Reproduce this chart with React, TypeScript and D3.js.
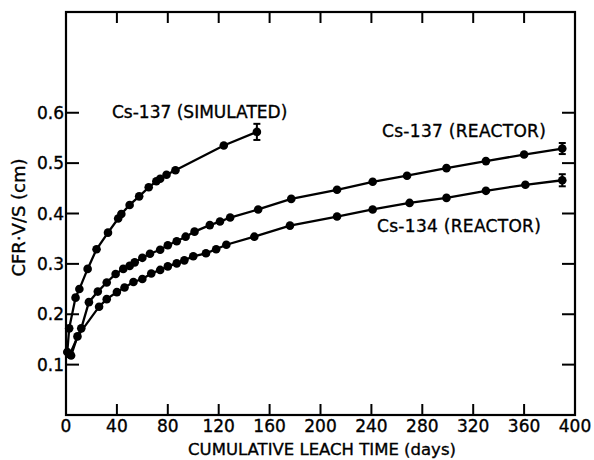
import React from 'react';
import * as d3 from 'd3';

// Cs-137 simulated waste
const simDays = [1, 2.5, 7.5, 10.5, 17, 24, 33, 41, 43.5, 50, 57.5, 65, 71, 74, 79, 86, 124, 150];
const simCFR = [0.125, 0.172, 0.233, 0.25, 0.29, 0.329, 0.362, 0.39, 0.399, 0.417, 0.434, 0.452, 0.464, 0.469, 0.477, 0.486, 0.535, 0.562];

// Cs-137 reactor waste
const r137Days = [3, 12, 18, 25, 32, 39, 45, 50, 54, 60, 66, 74, 80, 87, 94, 101, 113, 121, 129, 151, 177, 213, 241, 268, 299, 330, 360, 390];
const r137CFR = [0.12, 0.172, 0.224, 0.245, 0.263, 0.28, 0.29, 0.296, 0.303, 0.312, 0.32, 0.328, 0.337, 0.345, 0.354, 0.364, 0.377, 0.384, 0.392, 0.408, 0.429, 0.447, 0.463, 0.475, 0.49, 0.504, 0.517, 0.529];

// Cs-134 reactor waste
const r134Days = [4, 9, 26, 32, 40, 46, 53, 60, 67, 74, 80, 87, 93, 100, 110, 118, 126, 148, 176, 213, 241, 270, 299, 330, 361, 390];
const r134CFR = [0.118, 0.156, 0.215, 0.23, 0.244, 0.253, 0.264, 0.27, 0.281, 0.288, 0.295, 0.301, 0.307, 0.315, 0.321, 0.329, 0.338, 0.354, 0.376, 0.394, 0.408, 0.421, 0.431, 0.445, 0.457, 0.466];

// error bars on the last point of each series
const errDays = [150, 390, 390];
const errCFR = [0.562, 0.529, 0.466];
const errHalf = [0.016, 0.011, 0.012];

const xTicks = [0, 40, 80, 120, 160, 200, 240, 280, 320, 360, 400];
const yTicks = [0.1, 0.2, 0.3, 0.4, 0.5, 0.6];
const seriesLabels = ['Cs-137 (SIMULATED)', 'Cs-137 (REACTOR)', 'Cs-134 (REACTOR)'];

const W = 594;
const H = 460;
const LEFT = 66;
const RIGHT = 575;
const TOP = 12;
const BOTTOM = 415;
const FONT = 'DejaVu Sans, sans-serif';

export default function App() {
  const x = d3.scaleLinear().domain([0, 400]).range([LEFT, RIGHT]);
  const y = d3.scaleLinear().domain([0, 0.8]).range([BOTTOM, TOP]);

  const line = d3
    .line<[number, number]>()
    .x(d => x(d[0]))
    .y(d => y(d[1]));

  const series = [
    d3.zip(simDays, simCFR) as [number, number][],
    d3.zip(r137Days, r137CFR) as [number, number][],
    d3.zip(r134Days, r134CFR) as [number, number][]
  ];

  const innerX = xTicks.slice(1, -1);
  // hand lettering is a bit heavier than the plain font
  const ink = { fill: '#000', stroke: '#000', strokeWidth: 0.35 };

  return (
    <svg width={W} height={H} style={{ position: 'absolute', left: 0, top: 0, background: '#fff' }} fontFamily={FONT}>
      <rect x={LEFT} y={TOP} width={RIGHT - LEFT} height={BOTTOM - TOP} fill="none" stroke="#000" strokeWidth={2.2} />

      {innerX.map(t => (
        <g key={'xt' + t}>
          <line x1={x(t)} x2={x(t)} y1={BOTTOM} y2={BOTTOM - 11} stroke="#000" strokeWidth={2} />
          <line x1={x(t)} x2={x(t)} y1={TOP} y2={TOP + 11} stroke="#000" strokeWidth={2} />
        </g>
      ))}
      {yTicks.map(t => (
        <g key={'yt' + t}>
          <line x1={LEFT} x2={LEFT + 13} y1={y(t)} y2={y(t)} stroke="#000" strokeWidth={2} />
          <line x1={RIGHT} x2={RIGHT - 13} y1={y(t)} y2={y(t)} stroke="#000" strokeWidth={2} />
          <text x={LEFT - 2} y={y(t)} dy="0.36em" textAnchor="end" fontSize={17} {...ink}>
            {t.toFixed(1)}
          </text>
        </g>
      ))}
      {xTicks.map(t => (
        <text key={'xl' + t} x={x(t)} y={BOTTOM + 17} textAnchor="middle" fontSize={17} {...ink}>
          {t}
        </text>
      ))}

      <text x={322} y={455} textAnchor="middle" fontSize={16.5} {...ink}>
        CUMULATIVE LEACH TIME  (days)
      </text>
      <text transform={`translate(25, ${(TOP + BOTTOM) / 2 + 4}) rotate(-90)`} textAnchor="middle" fontSize={18} {...ink}>
        CFR·V/S (cm)
      </text>

      {series.map((s, i) => (
        <g key={'s' + i}>
          <path d={line(s) || ''} fill="none" stroke="#000" strokeWidth={2.3} />
          {s.map((p, j) => (
            <circle key={j} cx={x(p[0])} cy={y(p[1])} r={4.3} fill="#000" />
          ))}
        </g>
      ))}

      {errDays.map((d, i) => (
        <g key={'e' + i} stroke="#000" strokeWidth={2}>
          <line x1={x(d)} x2={x(d)} y1={y(errCFR[i] - errHalf[i])} y2={y(errCFR[i] + errHalf[i])} />
          <line x1={x(d) - 3.5} x2={x(d) + 3.5} y1={y(errCFR[i] - errHalf[i])} y2={y(errCFR[i] - errHalf[i])} />
          <line x1={x(d) - 3.5} x2={x(d) + 3.5} y1={y(errCFR[i] + errHalf[i])} y2={y(errCFR[i] + errHalf[i])} />
        </g>
      ))}

      <text x={112} y={118} fontSize={17} {...ink}>{seriesLabels[0]}</text>
      <text x={382} y={137} fontSize={17} letterSpacing={0.3} {...ink}>{seriesLabels[1]}</text>
      <text x={377} y={232} fontSize={17} letterSpacing={0.3} {...ink}>{seriesLabels[2]}</text>
    </svg>
  );
}
